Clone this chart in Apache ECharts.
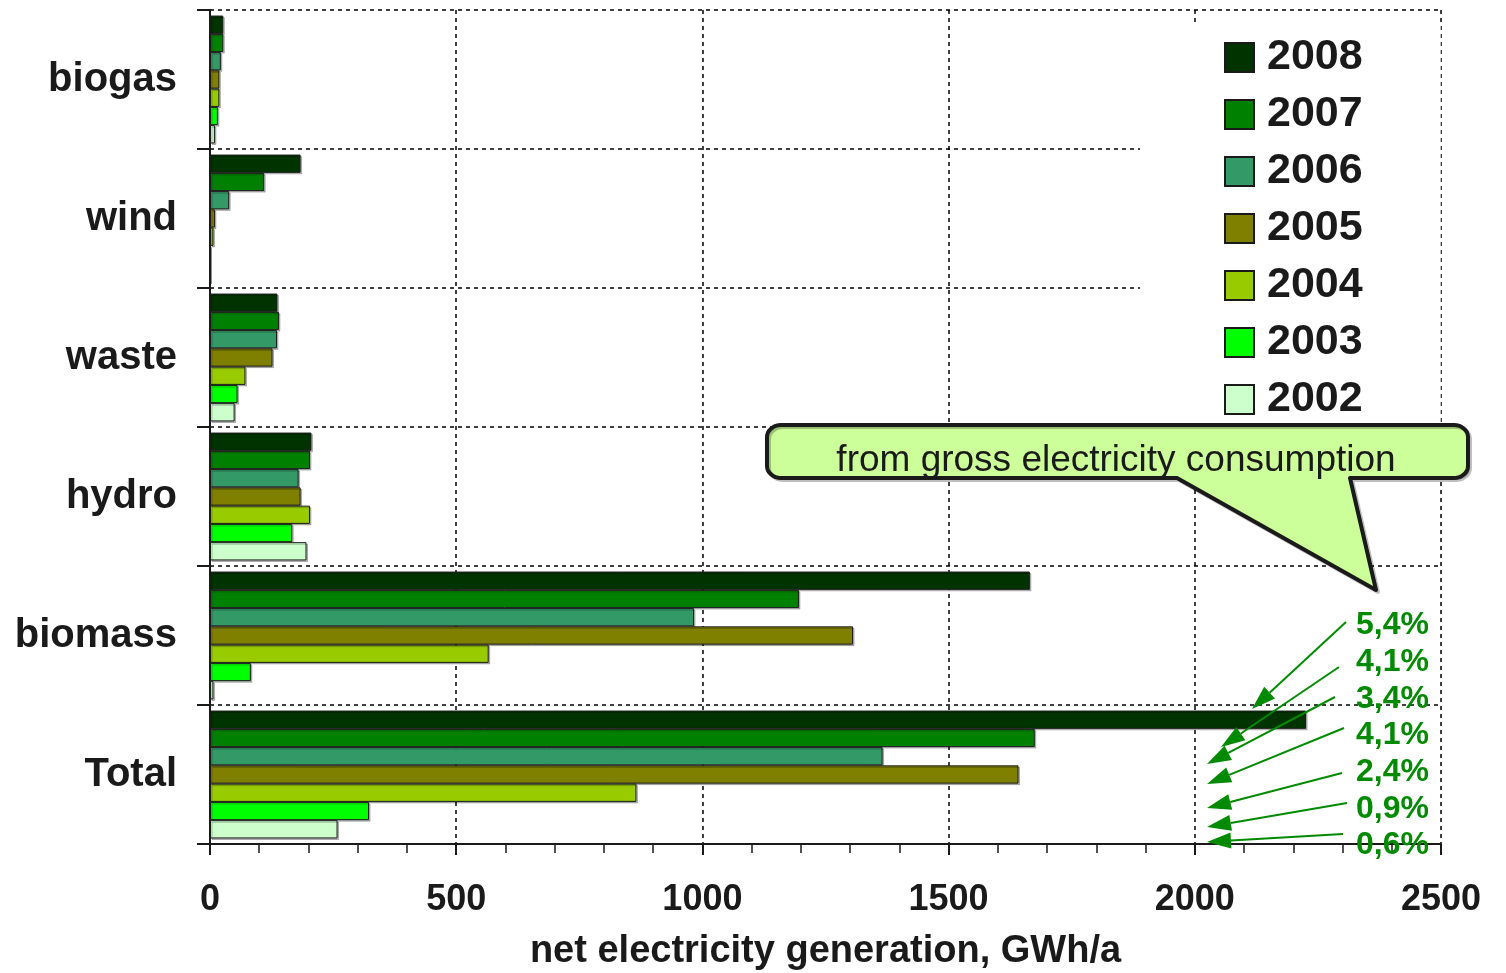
<!DOCTYPE html>
<html>
<head>
<meta charset="utf-8">
<script src="https://cdn.jsdelivr.net/npm/echarts@6/dist/echarts.min.js"></script>
<style>
html,body{margin:0;padding:0;background:#fff;}
#c{width:1506px;height:973px;}
</style>
</head>
<body>
<div id="c"></div>
<script>
// ---- data ----
const categories = ['biogas', 'wind', 'waste', 'hydro', 'biomass', 'Total'];
const years = ['2008', '2007', '2006', '2005', '2004', '2003', '2002'];
const v2008 = [27, 184, 137, 206, 1665, 2226];
const v2007 = [27, 110, 140, 203, 1196, 1675];
const v2006 = [22, 39, 136, 180, 983, 1366];
const v2005 = [19, 10, 127, 184, 1306, 1642];
const v2004 = [19, 7, 72, 203, 566, 866];
const v2003 = [16, 0, 56, 167, 83, 323];
const v2002 = [10, 0, 50, 196, 7, 259];
const xTicks = [0, 500, 1000, 1500, 2000, 2500];
const shareLabels = ['5,4%', '4,1%', '3,4%', '4,1%', '2,4%', '0,9%', '0,6%'];
const calloutText = 'from gross electricity consumption';
const axisTitle = 'net electricity generation, GWh/a';

const seriesValues = [v2008, v2007, v2006, v2005, v2004, v2003, v2002];
const colors = ['#003300', '#008000', '#339966', '#808000', '#99CC00', '#00FF00', '#CCFFCC'];
const FONT = "'Liberation Sans', Arial, sans-serif";
const GREEN = '#008a00';

const chart = echarts.init(document.getElementById('c'), null, {renderer: 'canvas'});

const series = years.map((y, i) => ({
  name: y,
  type: 'bar',
  data: seriesValues[i],
  barGap: '0%',
  barCategoryGap: '8%',
  itemStyle: {
    color: colors[i],
    borderColor: '#1a1a1a',
    borderWidth: 1,
    shadowColor: 'rgba(0,0,0,0.25)',
    shadowOffsetX: 1.5,
    shadowOffsetY: 1.5,
    shadowBlur: 0
  },
  emphasis: {disabled: true}
}));

// annotation arrows: [startX, startY, tipX, tipY]
const arrows = [
  [1346, 622, 1252, 709],
  [1339, 667, 1221, 747],
  [1335, 697, 1207, 764],
  [1344, 728, 1207, 784],
  [1342, 773, 1207, 808],
  [1347, 803, 1207, 827],
  [1343, 834, 1207, 842]
];
const labelY = [625, 662, 699, 735, 772, 809, 845];

const graphics = [];
arrows.forEach(a => {
  const [x1, y1, x2, y2] = a;
  const ang = Math.atan2(y2 - y1, x2 - x1);
  const L = 24, W = 8;
  const bx = x2 - L * Math.cos(ang), by = y2 - L * Math.sin(ang);
  const px = -Math.sin(ang) * W, py = Math.cos(ang) * W;
  graphics.push({
    type: 'line', z: 100, silent: true,
    shape: {x1: x1, y1: y1, x2: bx, y2: by},
    style: {stroke: GREEN, lineWidth: 2}
  });
  graphics.push({
    type: 'polygon', z: 100, silent: true,
    shape: {points: [[x2, y2], [bx + px, by + py], [bx - px, by - py]]},
    style: {fill: GREEN}
  });
});
shareLabels.forEach((t, i) => {
  graphics.push({
    type: 'text', z: 101, silent: true,
    x: 1356, y: labelY[i],
    style: {text: t, font: "bold 32px " + FONT, fill: GREEN, textAlign: 'left', textVerticalAlign: 'middle'}
  });
});
// callout bubble as polygon with rounded corners
function arcPts(cx, cy, rx, ry, a0, a1, n) {
  const p = [];
  for (let k = 0; k <= n; k++) {
    const a = a0 + (a1 - a0) * k / n;
    p.push([cx + rx * Math.cos(a), cy + ry * Math.sin(a)]);
  }
  return p;
}
const bL = 767, bR = 1468, bT = 425, bB = 478, rx = 14, ry = 12;
let pts = [];
pts = pts.concat(arcPts(bL + rx, bT + ry, rx, ry, Math.PI, 1.5 * Math.PI, 8));
pts = pts.concat(arcPts(bR - rx, bT + ry, rx, ry, 1.5 * Math.PI, 2 * Math.PI, 8));
pts = pts.concat(arcPts(bR - rx, bB - ry, rx, ry, 0, 0.5 * Math.PI, 8));
pts.push([1350, bB], [1376, 590], [1177, bB]);
pts = pts.concat(arcPts(bL + rx, bB - ry, rx, ry, 0.5 * Math.PI, Math.PI, 8));
graphics.push({
  type: 'polygon', z: 102, silent: true,
  shape: {points: pts},
  style: {fill: '#CCFF99', stroke: '#1a1a1a', lineWidth: 4, lineJoin: 'round',
          shadowColor: 'rgba(0,0,0,0.25)', shadowOffsetX: 2, shadowOffsetY: 2}
});
graphics.push({
  type: 'text', z: 103, silent: true,
  x: 1116, y: 461,
  style: {text: calloutText, font: "37px " + FONT, fill: '#1a1a1a', textAlign: 'center', textVerticalAlign: 'middle'}
});

const option = {
  animation: false,
  backgroundColor: '#fff',
  textStyle: {fontFamily: FONT},
  grid: {left: 210, right: 65, top: 10, bottom: 129, containLabel: false, outerBoundsMode: 'none'},
  legend: {
    orient: 'vertical',
    left: 1140, top: 22,
    data: years,
    icon: 'rect',
    itemWidth: 29, itemHeight: 29,
    itemGap: 14,
    padding: [14, 78, 4, 84],
    backgroundColor: '#fff',
    selectedMode: false,
    z: 10,
    textStyle: {fontSize: 43, fontWeight: 'bold', color: '#1a1a1a', lineHeight: 43, padding: [0, 0, 0, 8], fontFamily: FONT}
  },
  xAxis: {
    type: 'value',
    min: 0, max: 2500, interval: 500,
    name: axisTitle,
    nameLocation: 'middle',
    nameGap: 89,
    nameTextStyle: {fontSize: 38, fontWeight: 'bold', color: '#1a1a1a', fontFamily: FONT},
    axisLine: {show: true, lineStyle: {color: '#1a1a1a', width: 2}},
    axisTick: {show: true, length: 11, lineStyle: {color: '#1a1a1a', width: 2}},
    minorTick: {show: true, splitNumber: 5, length: 9, lineStyle: {color: '#1a1a1a', width: 1.5}},
    axisLabel: {fontSize: 36, fontWeight: 'bold', color: '#1a1a1a', margin: 38, fontFamily: FONT,
                formatter: v => xTicks.indexOf(v) >= 0 ? String(v) : ''},
    splitLine: {show: true, lineStyle: {color: '#000', width: 1.5, type: [4, 4]}},
    minorSplitLine: {show: false}
  },
  yAxis: {
    type: 'category',
    inverse: true,
    data: categories,
    axisLine: {show: true, lineStyle: {color: '#1a1a1a', width: 2}},
    axisTick: {show: true, length: 13, lineStyle: {color: '#1a1a1a', width: 2}},
    axisLabel: {fontSize: 40, fontWeight: 'bold', color: '#1a1a1a', margin: 33, fontFamily: FONT,
                padding: [8, 0, 0, 0]},
    splitLine: {show: true, lineStyle: {color: '#000', width: 1.5, type: [4, 4]}}
  },
  series: series,
  graphic: {elements: graphics}
};
chart.setOption(option);
</script>
</body>
</html>
